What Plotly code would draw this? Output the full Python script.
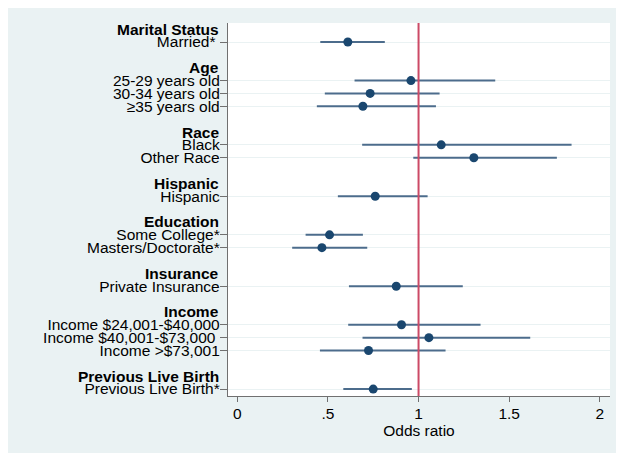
import plotly.graph_objects as go

# ---- data ----
groups = ["Marital Status", "Age", "Race", "Hispanic", "Education",
          "Insurance", "Income", "Previous Live Birth"]
group_items = [
    ["Married*\u00a0"],
    ["25-29 years old", "30-34 years old", "\u226535 years old"],
    ["Black", "Other Race"],
    ["Hispanic"],
    ["Some College*", "Masters/Doctorate*"],
    ["Private Insurance"],
    ["Income $24,001-$40,000", "Income $40,001-$73,000\u00a0", "Income >$73,001"],
    ["Previous Live Birth*"],
]
odds_ratio = [0.610, 0.958, 0.733, 0.693, 1.125, 1.305, 0.761, 0.509, 0.467,
              0.877, 0.906, 1.057, 0.724, 0.750]
ci_low = [0.458, 0.647, 0.483, 0.439, 0.689, 0.971, 0.555, 0.377, 0.303,
          0.616, 0.612, 0.691, 0.456, 0.585]
ci_high = [0.814, 1.423, 1.116, 1.096, 1.844, 1.763, 1.050, 0.693, 0.717,
           1.244, 1.342, 1.616, 1.149, 0.963]
x_tickvals = [0, 0.5, 1, 1.5, 2]
x_ticktext = ["0", ".5", "1", "1.5", "2"]
ref_value = 1

# ---- build row positions (header row, item rows, blank row) ----
item_labels, item_rows, header_rows = [], [], []
row = 0
for g, items in zip(groups, group_items):
    header_rows.append(row)
    row += 1
    for it in items:
        item_labels.append(it)
        item_rows.append(row)
        row += 1
    row += 1
last_row = item_rows[-1]

FONT = "Liberation Sans, Arial, sans-serif"
FS = 15.5
BG = "#EAF2F3"
NAVY = "#1A476F"

fig = go.Figure()
fig.add_trace(go.Scatter(
    x=odds_ratio, y=item_rows, mode="markers",
    marker=dict(color=NAVY, size=9),
    error_x=dict(type="data", symmetric=False,
                 array=[h - o for h, o in zip(ci_high, odds_ratio)],
                 arrayminus=[o - l for l, o in zip(ci_low, odds_ratio)],
                 color="#4C6C8C", thickness=2, width=0),
    showlegend=False, hoverinfo="skip"))

fig.add_shape(type="line", xref="x", yref="paper", x0=ref_value, x1=ref_value,
              y0=0, y1=1, line=dict(color="#CC4A66", width=2), layer="above")

for g, r in zip(groups, header_rows):
    fig.add_annotation(text="<b>%s</b>" % g, xref="paper", yref="y", x=0, y=r,
                       xanchor="right", yanchor="middle", xshift=-7,
                       showarrow=False, font=dict(family=FONT, size=FS, color="#000"))

fig.update_layout(
    width=624, height=453,
    margin=dict(l=220, r=22, t=15, b=65, pad=0),
    paper_bgcolor=BG, plot_bgcolor="white",
    font=dict(family=FONT, size=FS, color="#000"),
    xaxis=dict(range=[-0.051, 2.056], tickvals=x_tickvals, ticktext=x_ticktext,
               ticks="outside", ticklen=5, tickcolor="#707070", tickwidth=1.3,
               showgrid=False, zeroline=False, showline=True, linecolor="#707070",
               linewidth=1.3, tickfont=dict(size=FS), ticklabelstandoff=-2,
               title=dict(text="Odds ratio", font=dict(size=FS), standoff=2)),
    yaxis=dict(range=[last_row + 0.54, -0.48], tickvals=item_rows, ticktext=item_labels,
               ticks="outside", ticklen=7, tickcolor="#707070", tickwidth=1.3,
               showgrid=True, gridcolor=BG, gridwidth=1.3, zeroline=False,
               showline=True, linecolor="#707070", linewidth=1.3,
               tickfont=dict(size=FS), ticklabelstandoff=-3),
)

fig.write_html("out.html")
